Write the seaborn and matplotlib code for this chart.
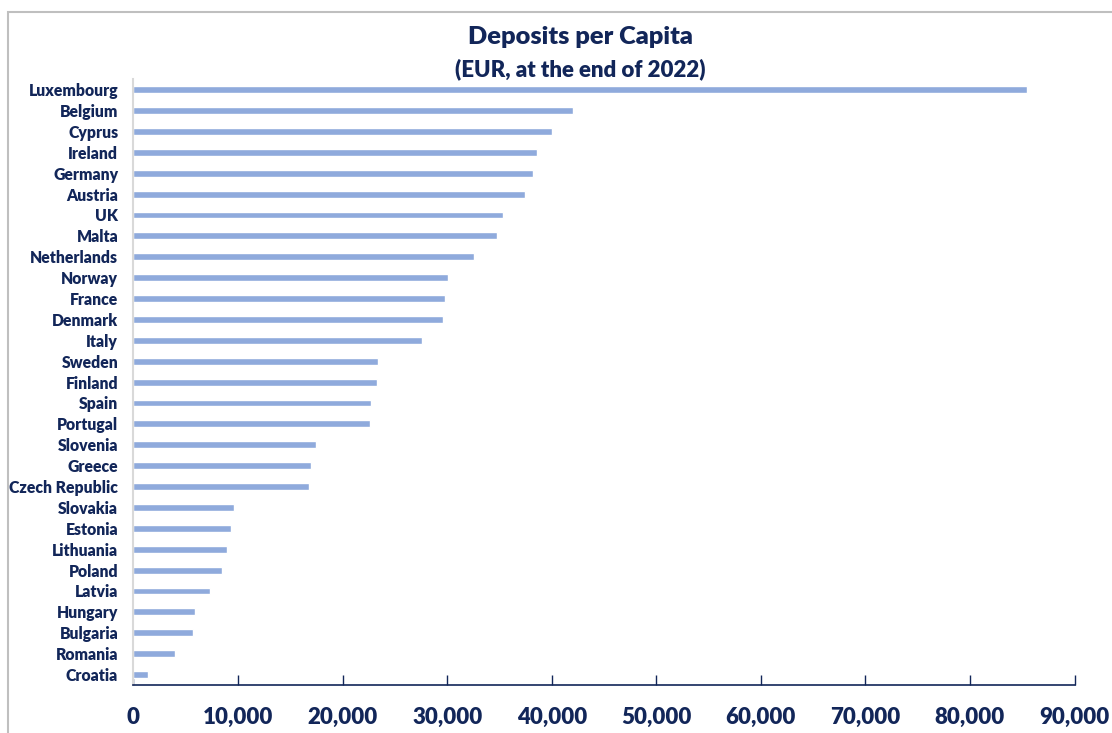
import numpy as np
import pandas as pd
import matplotlib
matplotlib.use("Agg")
import matplotlib.pyplot as plt
import seaborn as sns
from matplotlib.patches import Rectangle
from matplotlib.ticker import FuncFormatter

NAVY = "#122659"
BAR_COLOR = "#8FAADC"
WEIGHT = "heavy"

countries = ["Luxembourg", "Belgium", "Cyprus", "Ireland", "Germany", "Austria",
             "UK", "Malta", "Netherlands", "Norway", "France", "Denmark", "Italy",
             "Sweden", "Finland", "Spain", "Portugal", "Slovenia", "Greece",
             "Czech Republic", "Slovakia", "Estonia", "Lithuania", "Poland",
             "Latvia", "Hungary", "Bulgaria", "Romania", "Croatia"]
deposits = [85500, 42000, 40000, 38600, 38200, 37400,
            35300, 34800, 32600, 30100, 29800, 29600, 27600,
            23400, 23250, 22750, 22600, 17450, 16950,
            16750, 9600, 9300, 8950, 8430,
            7300, 5850, 5700, 3950, 1360]
x_ticks = np.arange(0, 90001, 10000)

df = pd.DataFrame({"country": countries, "deposits": deposits})

sns.set_theme(style="white")
plt.rcParams["font.family"] = ["Lato", "DejaVu Sans"]

fig = plt.figure(figsize=(11.12, 7.33), dpi=100)
ax = fig.add_axes([0.12, 0.0655, 0.8463, 0.8265])

sns.barplot(data=df, x="deposits", y="country", orient="h", color=BAR_COLOR,
            width=0.33, saturation=1, ax=ax)

ax.set_xlim(0, 90000)
ax.set_xticks(x_ticks)
ax.xaxis.set_major_formatter(FuncFormatter(lambda v, p: f"{int(v):,}"))
ax.set_xlabel("")
ax.set_ylabel("")

ax.tick_params(axis="x", direction="in", length=7, width=1, color=NAVY,
               labelsize=16, labelcolor=NAVY, pad=16, bottom=True)
ax.tick_params(axis="y", length=0, labelsize=11.3, labelcolor=NAVY, pad=11)
for lab in ax.get_xticklabels() + ax.get_yticklabels():
    lab.set_fontweight(WEIGHT)

for side in ["top", "right"]:
    ax.spines[side].set_visible(False)
ax.spines["bottom"].set_color(NAVY)
ax.spines["bottom"].set_linewidth(1.2)
ax.spines["left"].set_color("#D9D9D9")
ax.spines["left"].set_linewidth(1.5)

fig.text(0.5216, 0.949, "Deposits per Capita", ha="center", va="center",
         fontsize=18.3, fontweight=WEIGHT, color=NAVY)
fig.text(0.5216, 0.905, "(EUR, at the end of 2022)", ha="center", va="center",
         fontsize=16, fontweight=WEIGHT, color=NAVY)

# outer chart frame (only top and left edges are visible in the crop)
fig.patches.append(Rectangle((8 / 1112, -0.1), 1.2, 1 - 12 / 733 + 0.1,
                             transform=fig.transFigure, fill=False,
                             edgecolor="#BFBFBF", linewidth=1.5))

fig.savefig("out.png", dpi=100)
